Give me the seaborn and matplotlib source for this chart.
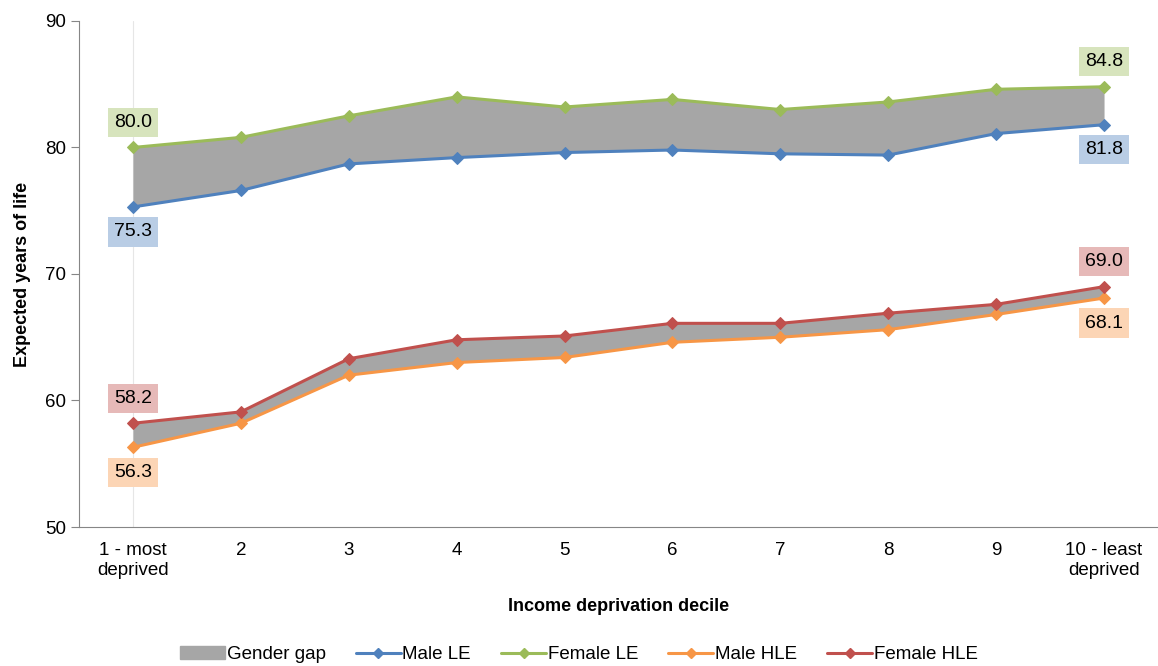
import numpy as np
import pandas as pd
import seaborn as sns
import matplotlib.pyplot as plt
from matplotlib.patches import Patch
from matplotlib.lines import Line2D

# values
deciles = ["1 - most\ndeprived", "2", "3", "4", "5", "6", "7", "8", "9", "10 - least\ndeprived"]
male_le = [75.3, 76.6, 78.7, 79.2, 79.6, 79.8, 79.5, 79.4, 81.1, 81.8]
female_le = [80.0, 80.8, 82.5, 84.0, 83.2, 83.8, 83.0, 83.6, 84.6, 84.8]
male_hle = [56.3, 58.2, 62.0, 63.0, 63.4, 64.6, 65.0, 65.6, 66.8, 68.1]
female_hle = [58.2, 59.1, 63.3, 64.8, 65.1, 66.1, 66.1, 66.9, 67.6, 69.0]

sns.set_style("white")
plt.rcParams["font.family"] = ["Liberation Sans", "DejaVu Sans"]
plt.rcParams["text.color"] = "black"
plt.rcParams["axes.labelcolor"] = "black"
plt.rcParams["xtick.color"] = "black"
plt.rcParams["ytick.color"] = "black"

x = np.arange(len(deciles))
df = pd.DataFrame({"x": x, "Male LE": male_le, "Female LE": female_le,
                   "Male HLE": male_hle, "Female HLE": female_hle})

fig = plt.figure(figsize=(11.58, 6.66), dpi=100)
ax = fig.add_axes([0.0682, 0.2087, 0.9318, 0.7598])

gap = "#A6A6A6"
ax.fill_between(x, df["Male LE"], df["Female LE"], color=gap, lw=0, zorder=1)
ax.fill_between(x, df["Male HLE"], df["Female HLE"], color=gap, lw=0, zorder=1)

series = [("Male LE", "#4F81BD", "#B9CDE5", -1),
          ("Female LE", "#9BBB59", "#D7E4BD", 1),
          ("Male HLE", "#F79646", "#FCD5B5", -1),
          ("Female HLE", "#C0504D", "#E6B9B8", 1)]

for name, col, box, side in series:
    sns.lineplot(data=df, x="x", y=name, ax=ax, color=col, lw=2.2,
                 marker="D", markersize=6, markeredgecolor=col, zorder=3)
    for i in (0, len(x) - 1):
        v = df[name].iloc[i]
        ax.annotate(f"{v:.1f}", (x[i], v), xytext=(0, 18 * side), textcoords="offset points",
                    ha="center", va="center", fontsize=14,
                    bbox=dict(boxstyle="square,pad=0.32", fc=box, ec="none"), zorder=4)

# faint drop line at the first category
ax.axvline(0, color="#E6E6E6", lw=0.8, zorder=0)

ax.set_xlim(-0.5, len(x) - 0.5)
ax.set_ylim(50, 90)
ax.set_yticks([50, 60, 70, 80, 90])
ax.set_xticks(x)
ax.set_xticklabels(deciles)
ax.set_xticks(np.arange(-0.5, len(x)), minor=True)
ax.tick_params(axis="x", which="major", length=0, labelsize=13.5, pad=11)
ax.tick_params(axis="x", which="minor", length=6, color="#868686", direction="out")
ax.tick_params(axis="y", length=6, color="#868686", direction="out", labelsize=13.5, left=True)

for s in ("top", "right"):
    ax.spines[s].set_visible(False)
for s in ("left", "bottom"):
    ax.spines[s].set_color("#868686")

ax.set_xlabel("Income deprivation decile", fontsize=13, fontweight="bold", labelpad=14)
ax.set_ylabel("Expected years of life", fontsize=13, fontweight="bold", labelpad=10)

handles = [Patch(color=gap, label="Gender gap")]
for name, col, box, side in series:
    handles.append(Line2D([], [], color=col, lw=2.2, marker="D", markersize=5, label=name))
fig.legend(handles=handles, loc="center", bbox_to_anchor=(0.5, 0.017), ncol=5, frameon=False,
           fontsize=13.5, handlelength=2.4, handletextpad=0.1, columnspacing=1.6)

fig.savefig("out.png", dpi=100)
